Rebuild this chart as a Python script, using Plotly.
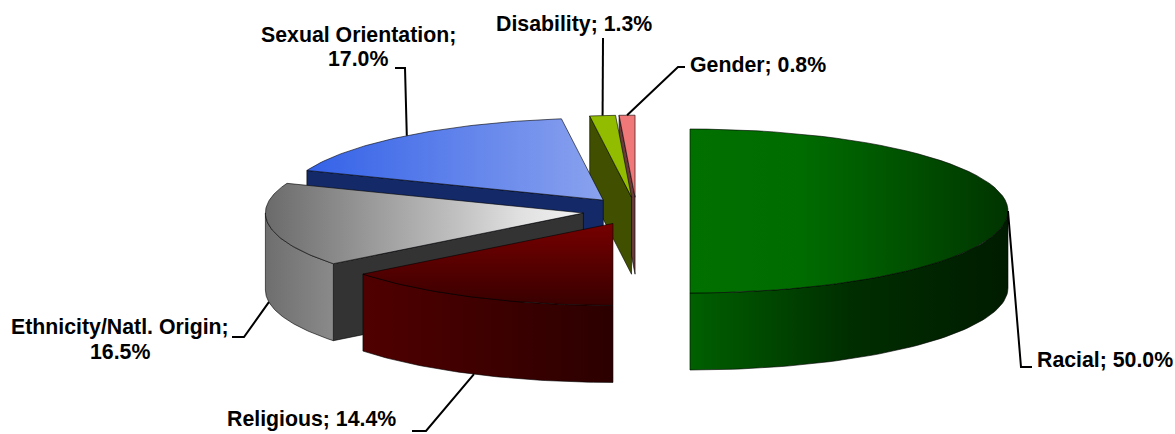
import math
import numpy as np
import plotly.graph_objects as go

categories = ["Racial", "Religious", "Ethnicity/Natl. Origin", "Sexual Orientation", "Disability", "Gender"]
values = [50.0, 14.4, 16.5, 17.0, 1.3, 0.8]

# pie geometry in pixels
CX, CY, RX, RY, DEPTH, PULL = 636.4, 211.0, 318.0, 82.0, 77.0, 0.1685

top_grad = {
    "Racial": ("horizontal", 690, 1008, [[0, "#007000"], [0.35, "#006c00"], [0.6, "#005800"], [1, "#003400"]]),
    "Religious": ("vertical", 224, 306, [[0, "#760000"], [1, "#380000"]]),
    "Ethnicity/Natl. Origin": ("horizontal", 265, 583, [[0, "#6a6a6a"], [0.6, "#c0c0c0"], [0.8, "#e0e0e0"], [1, "#f2f2f2"]]),
    "Sexual Orientation": ("horizontal", 308, 603, [[0, "#3462e8"], [1, "#8aa2ee"]]),
    "Disability": ("horizontal", 590, 632, [[0, "#92bc00"], [1, "#92bc00"]]),
    "Gender": ("horizontal", 620, 636, [[0, "#f07878"], [1, "#f07878"]]),
}
wall_grad = {
    "Racial": ("horizontal", 690, 1008, [[0, "#006000"], [0.5, "#002e00"], [1, "#001c00"]]),
    "Religious": ("horizontal", 362, 613, [[0, "#500000"], [1, "#2c0000"]]),
    "Ethnicity/Natl. Origin": ("horizontal", 265, 333, [[0, "#6e6e6e"], [1, "#8a8a8a"]]),
}
radial_color = {
    "Ethnicity/Natl. Origin": "#333333",
    "Sexual Orientation": "#142a68",
    "Disability": "#405000",
    "Gender": "#6a3a3a",
}
# elbow points of leader lines
leaders = {
    "Racial": [(1021, 367), (1032, 367)],
    "Religious": [(426, 431), (412, 431)],
    "Ethnicity/Natl. Origin": [(244, 337), (232, 337)],
    "Sexual Orientation": [(405, 68), (395, 68)],
    "Disability": [(603, 38)],
    "Gender": [(678, 67), (685, 67)],
}
# label anchors: x, list of line centre y values, anchor
labels = {
    "Racial": (1035, [360], "left"),
    "Religious": (225, [418.5], "left"),
    "Ethnicity/Natl. Origin": (120, [327, 352], "center"),
    "Sexual Orientation": (358, [34.5, 59], "center"),
    "Disability": (574, [23.5], "center"),
    "Gender": (688, [64.5], "left"),
}

total = sum(values)
slices = {}
start = 0.0
for c, v in zip(categories, values):
    end = start + v / total * 2 * math.pi
    mid = (start + end) / 2
    slices[c] = dict(
        t0=start, t1=end, mid=mid,
        cx=CX + PULL * RX * math.sin(mid),
        cy=CY - PULL * RY * math.cos(mid),
    )
    start = end


def rim(s, a, b, n=60):
    t = np.linspace(a, b, n)
    return s["cx"] + RX * np.sin(t), s["cy"] - RY * np.cos(t)


fig = go.Figure()


def add_poly(xs, ys, grad=None, color=None, lw=0.8):
    xs = list(xs) + [xs[0]]
    ys = list(ys) + [ys[0]]
    kw = {}
    if grad:
        kw["fillgradient"] = dict(type=grad[0], start=grad[1], stop=grad[2], colorscale=grad[3])
    else:
        kw["fillcolor"] = color
    fig.add_trace(go.Scatter(x=xs, y=ys, mode="lines", fill="toself",
                             line=dict(color="rgba(0,0,0,0.75)", width=lw),
                             hoverinfo="skip", showlegend=False, **kw))


def add_radial(c):
    s = slices[c]
    x, y = rim(s, s["t0"], s["t0"], 1)
    xs = [x[0], s["cx"], s["cx"], x[0]]
    ys = [y[0], s["cy"], s["cy"] + DEPTH, y[0] + DEPTH]
    add_poly(xs, ys, color=radial_color[c])


def add_outer(c, a, b):
    s = slices[c]
    x, y = rim(s, a, b)
    xs = np.concatenate([x, x[::-1]])
    ys = np.concatenate([y, y[::-1] + DEPTH])
    add_poly(xs, ys, grad=wall_grad[c])


def add_top(c):
    s = slices[c]
    x, y = rim(s, s["t0"], s["t1"])
    xs = np.concatenate([[s["cx"]], x])
    ys = np.concatenate([[s["cy"]], y])
    add_poly(xs, ys, grad=top_grad[c])


# back to front
add_outer("Racial", slices["Racial"]["mid"], slices["Racial"]["t1"])
add_top("Racial")
add_radial("Gender")
add_top("Gender")
add_radial("Disability")
add_top("Disability")
add_radial("Sexual Orientation")
add_top("Sexual Orientation")
add_radial("Ethnicity/Natl. Origin")
add_outer("Ethnicity/Natl. Origin", slices["Ethnicity/Natl. Origin"]["t0"], 1.5 * math.pi)
add_top("Ethnicity/Natl. Origin")
add_outer("Religious", slices["Religious"]["t0"], slices["Religious"]["t1"])
add_top("Religious")

annotations = []
for c, v in zip(categories, values):
    s = slices[c]
    mx = s["cx"] + RX * math.sin(s["mid"])
    my = s["cy"] - RY * math.cos(s["mid"])
    if math.cos(s["mid"]) < -0.01:  # leader starts on the lower edge of the front wall
        my += DEPTH
    pts = [(mx, my)] + leaders[c]
    fig.add_trace(go.Scatter(x=[p[0] for p in pts], y=[p[1] for p in pts], mode="lines",
                             line=dict(color="black", width=2),
                             hoverinfo="skip", showlegend=False))
    lx, lys, anchor = labels[c]
    if len(lys) == 2:
        texts = [f"{c};", f"{v:.1f}%"]
    else:
        texts = [f"{c}; {v:.1f}%"]
    for ly, t in zip(lys, texts):
        annotations.append(dict(x=lx, y=ly, xref="x", yref="y", text=f"<b>{t}</b>",
                                showarrow=False, xanchor=anchor, yanchor="middle", align="center",
                                font=dict(family="Liberation Sans", size=21.3, color="black")))

fig.update_layout(
    width=1175, height=434, margin=dict(l=0, r=0, t=0, b=0),
    paper_bgcolor="white", plot_bgcolor="white",
    xaxis=dict(range=[0, 1175], visible=False, fixedrange=True),
    yaxis=dict(range=[434, 0], visible=False, fixedrange=True),
    annotations=annotations,
)
fig.write_html("out.html", config={"displayModeBar": False},
               post_script="document.body.style.margin='0';")
